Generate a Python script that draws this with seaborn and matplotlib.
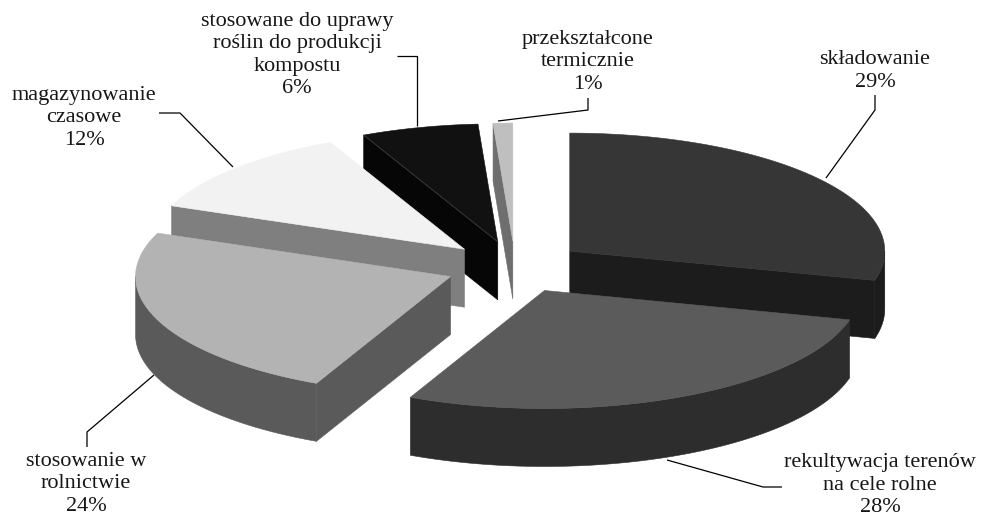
import numpy as np
import matplotlib
matplotlib.use("Agg")
import matplotlib.pyplot as plt
from matplotlib.patches import Polygon
import seaborn as sns

# Waste sludge management shares (%)
categories = [
    "składowanie",
    "rekultywacja terenów\nna cele rolne",
    "stosowanie w\nrolnictwie",
    "magazynowanie\nczasowe",
    "stosowane do uprawy\nroślin do produkcji\nkompostu",
    "przekształcone\ntermicznie",
]
shares = [29, 28, 24, 12, 6, 1]

top_colors = ["#363636", "#5b5b5b", "#b3b3b3", "#f2f2f2", "#111111", "#bfbfbf"]
side_colors = ["#1c1c1c", "#2d2d2d", "#5a5a5a", "#7f7f7f", "#060606", "#6e6e6e"]

# label anchor (centre of text block) and leader polyline for each slice
label_xy = [(875, 71), (880, 485), (86, 484), (84, 118), (297, 55), (588, 62)]
leaders = [
    [(875, 95), (875, 110), (826, 178)],
    [(782, 487), (763, 487), (667, 460)],
    [(87, 447), (87, 432), (154, 375)],
    [(159, 113), (180, 113), (233, 167)],
    [(397, 56), (417, 56), (417, 126)],
    [(588, 98), (588, 110), (498, 121)],
]

sns.set_theme(style="white")
plt.rcParams["font.family"] = ["Liberation Serif", "DejaVu Serif"]

# 3D pie geometry (screen units)
cx, cy = 515.0, 267.0
rx, ry = 315.0, 118.0
depth = 58.0
explode = 0.22


def to_screen(X, Y, bottom=False):
    return (cx + X * rx, cy - Y * ry + (depth if bottom else 0.0))


fig = plt.figure(figsize=(9.84, 5.16), dpi=100)
ax = fig.add_axes([0, 0, 1, 1])
ax.set_xlim(0, 984)
ax.set_ylim(516, 0)
ax.axis("off")

fractions = np.array(shares, dtype=float) / np.sum(shares)
bounds = np.concatenate([[0.0], np.cumsum(fractions)]) * 2 * np.pi

side_faces = []   # (depth key, polygon, colour)
top_faces = []
ridge_lines = []

for i in range(len(shares)):
    t0, t1 = bounds[i], bounds[i + 1]
    m = 0.5 * (t0 + t1)
    ax0, ay0 = explode * np.sin(m), explode * np.cos(m)

    def rim(t):
        return ax0 + np.sin(t), ay0 + np.cos(t)

    # top face
    ts = np.linspace(t0, t1, max(4, int(np.degrees(t1 - t0)) + 2))
    pts = [to_screen(ax0, ay0)] + [to_screen(*rim(t)) for t in ts]
    top_faces.append((pts, top_colors[i]))

    # outer curved wall, only the front half is visible
    lo, hi = max(t0, np.pi / 2), min(t1, 3 * np.pi / 2)
    if hi > lo:
        ws = np.linspace(lo, hi, max(4, int(np.degrees(hi - lo)) + 2))
        upper = [to_screen(*rim(t)) for t in ws]
        lower = [to_screen(*rim(t), bottom=True) for t in ws[::-1]]
        ykey = np.mean([rim(t)[1] for t in ws])
        side_faces.append((ykey, upper + lower, side_colors[i]))

    # radial cut faces
    for t, visible in ((t0, np.sin(t0) < -1e-9), (t1, np.sin(t1) > 1e-9)):
        if visible:
            rxp, ryp = rim(t)
            poly = [to_screen(ax0, ay0), to_screen(rxp, ryp),
                    to_screen(rxp, ryp, True), to_screen(ax0, ay0, True)]
            ykey = 0.5 * (ay0 + ryp)
            side_faces.append((ykey, poly, side_colors[i]))
            if i == 4:
                ridge_lines.append([to_screen(ax0, ay0), to_screen(rxp, ryp)])

# back-to-front painting of walls, then tops
for _, poly, col in sorted(side_faces, key=lambda f: -f[0]):
    ax.add_patch(Polygon(poly, closed=True, facecolor=col, edgecolor=col,
                         linewidth=0.4, zorder=2))
for poly, col in top_faces:
    ax.add_patch(Polygon(poly, closed=True, facecolor=col, edgecolor=col,
                         linewidth=0.4, zorder=3))
for seg in ridge_lines:
    xs, ys = zip(*seg)
    ax.plot(xs, ys, color="#3c3c3c", lw=0.6, zorder=4)

# labels and leader lines
for name, val, (lx, ly), path in zip(categories, shares, label_xy, leaders):
    ax.text(lx, ly, f"{name}\n{val}%", ha="center", va="center",
            fontsize=16, color="#161616", linespacing=1.26, zorder=5)
    xs, ys = zip(*path)
    ax.plot(xs, ys, color="black", lw=0.9, zorder=5, solid_capstyle="butt")

fig.savefig("out.png", dpi=100, facecolor="white")
